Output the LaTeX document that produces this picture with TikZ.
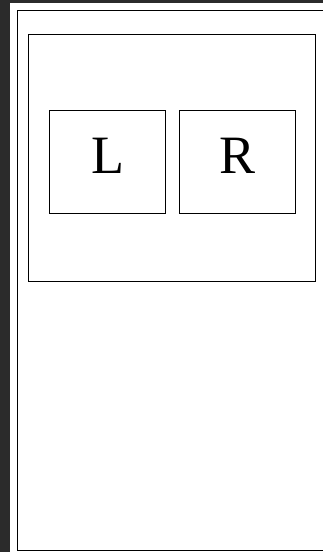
\documentclass[tikz,border=0pt]{standalone}
\usepackage{fontspec}
\setmainfont{Liberation Serif}
\usetikzlibrary{positioning}
\definecolor{sidebar}{HTML}{2B2B2B}

\begin{document}
\begin{tikzpicture}[x=1pt,y=-1pt,line width=0.9pt,every node/.style={font=\fontsize{54}{54}\selectfont},panel/.style={draw,minimum width=287pt,minimum height=246.5pt,inner sep=0pt},half/.style={draw,minimum width=116.4pt,minimum height=103pt,inner sep=0pt,text depth=12pt}]
\useasboundingbox (0,0) rectangle (323,552);
\fill[sidebar] (0,0) rectangle (10,552);\fill[sidebar] (10,0) rectangle (323,2.5);
\draw (324,10) -- (17,10) -- (17,550) -- (324,550);
\node[panel] (frame) at (172,157.75) {};
\node[half] (left) at (107.5,161.5) {L};\node[half] (right) at (237.5,161.5) {R};
\end{tikzpicture}
\end{document}
